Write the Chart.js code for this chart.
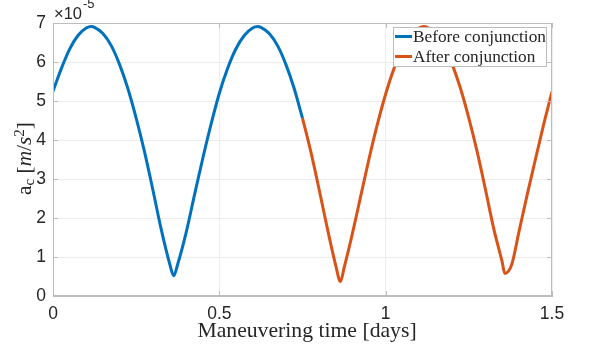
<!DOCTYPE html>
<html>
<head>
<meta charset="utf-8">
<script src="https://cdn.jsdelivr.net/npm/chart.js@4/dist/chart.umd.min.js"></script>
<style>
  html, body { margin: 0; background: #fff; }
</style>
</head>
<body>
<canvas id="chart" width="589" height="353"></canvas>
<script>
// values in units of 1e-5 m/s^2
const beforeDays = [0, 0.025, 0.05, 0.075, 0.1, 0.115, 0.125, 0.15, 0.175, 0.2, 0.225, 0.25, 0.275, 0.3, 0.325, 0.35, 0.363, 0.375, 0.4, 0.425, 0.45, 0.475, 0.5, 0.525, 0.55, 0.575, 0.6, 0.615, 0.625, 0.65, 0.675, 0.7, 0.725, 0.75];
const beforeAc   = [5.25, 5.83, 6.33, 6.68, 6.87, 6.91, 6.89, 6.73, 6.42, 5.94, 5.32, 4.56, 3.70, 2.73, 1.72, 0.85, 0.52, 0.82, 1.62, 2.58, 3.52, 4.4, 5.2, 5.84, 6.34, 6.68, 6.87, 6.91, 6.89, 6.73, 6.42, 5.94, 5.32, 4.56];
const afterDays  = [0.75, 0.775, 0.8, 0.825, 0.85, 0.864, 0.875, 0.9, 0.925, 0.95, 0.975, 1.0, 1.025, 1.05, 1.075, 1.1, 1.115, 1.125, 1.15, 1.175, 1.2, 1.225, 1.25, 1.275, 1.3, 1.325, 1.35, 1.358, 1.379, 1.4, 1.425, 1.45, 1.475, 1.5];
const afterAc    = [4.56, 3.70, 2.73, 1.72, 0.78, 0.37, 0.72, 1.6, 2.56, 3.52, 4.40, 5.18, 5.83, 6.33, 6.68, 6.87, 6.91, 6.89, 6.73, 6.42, 5.94, 5.32, 4.56, 3.70, 2.73, 1.72, 0.88, 0.58, 0.81, 1.62, 2.58, 3.5, 4.4, 5.24];
const xTicks = [0, 0.5, 1, 1.5];
const yTicks = [0, 1, 2, 3, 4, 5, 6, 7];
const seriesNames = ['Before conjunction', 'After conjunction'];

const AXIS = '#bcbcbc';
const TEXT = '#262626';
const SANS = '"Liberation Sans", Arial, sans-serif';
const SERIF = '"Liberation Serif", "DejaVu Serif", serif';

const toPts = (xs, ys) => xs.map((x, i) => ({ x: x, y: ys[i] }));

// box, inward ticks, exponent, axis titles and legend
const decor = {
  id: 'decor',
  afterDatasetsDraw(chart){
    const ctx = chart.ctx, a = chart.chartArea;
    const xs = chart.scales.x, ys = chart.scales.y;
    ctx.save();
    ctx.strokeStyle = AXIS; ctx.lineWidth = 1;
    ctx.strokeRect(a.left + 0.5, a.top + 0.5, a.right - a.left - 1, a.bottom - a.top - 1);
    ctx.beginPath();
    xTicks.forEach(v => {
      const px = Math.round(xs.getPixelForValue(v)) + 0.5;
      ctx.moveTo(px, a.bottom); ctx.lineTo(px, a.bottom - 5);
      ctx.moveTo(px, a.top); ctx.lineTo(px, a.top + 5);
    });
    yTicks.forEach(v => {
      const py = Math.round(ys.getPixelForValue(v)) + 0.5;
      ctx.moveTo(a.left, py); ctx.lineTo(a.left + 5, py);
      ctx.moveTo(a.right, py); ctx.lineTo(a.right - 5, py);
    });
    ctx.stroke();

    // x10^-5
    ctx.fillStyle = TEXT;
    ctx.textAlign = 'left'; ctx.textBaseline = 'alphabetic';
    ctx.font = '16.5px ' + SANS;
    ctx.fillText('\u00d710', 54, 19);
    const w10 = ctx.measureText('\u00d710').width;
    ctx.font = '13px ' + SANS;
    ctx.fillText('-5', 54 + w10 + 1, 8);

    // x title
    const xt = 'Maneuvering time [days]';
    ctx.font = '17px ' + SERIF;
    let s = 17 * 219 / ctx.measureText(xt).width;
    ctx.font = s.toFixed(1) + 'px ' + SERIF;
    ctx.textAlign = 'center';
    ctx.fillText(xt, 307, 337);

    // y title: a_c [m/s^2]
    const parts = [
      { t: 'a', st: '', sz: 1, dy: 0 },
      { t: 'c', st: '', sz: 0.7, dy: 3 },
      { t: ' [', st: '', sz: 1, dy: 0 },
      { t: 'm', st: 'italic ', sz: 1, dy: 0 },
      { t: '/', st: '', sz: 1, dy: 0 },
      { t: 's', st: 'italic ', sz: 1, dy: 0 },
      { t: '2', st: '', sz: 0.7, dy: -7 },
      { t: ']', st: '', sz: 1, dy: 0 }
    ];
    let base = 17, tot = 0;
    parts.forEach(p => {
      ctx.font = p.st + (base * p.sz) + 'px ' + SERIF;
      tot += ctx.measureText(p.t).width;
    });
    base = base * 73 / tot;
    tot = 0;
    parts.forEach(p => {
      ctx.font = p.st + (base * p.sz).toFixed(1) + 'px ' + SERIF;
      p.w = ctx.measureText(p.t).width; tot += p.w;
    });
    ctx.translate(30.5, 158.5);
    ctx.rotate(-Math.PI / 2);
    ctx.textAlign = 'left';
    let cx = -tot / 2;
    parts.forEach(p => {
      ctx.font = p.st + (base * p.sz).toFixed(1) + 'px ' + SERIF;
      ctx.fillText(p.t, cx, p.dy);
      cx += p.w;
    });
    ctx.setTransform(1, 0, 0, 1, 0, 0);

    // legend
    const lx = 393, ly = 27, lw = 154, lh = 40;
    ctx.fillStyle = '#fff';
    ctx.fillRect(lx, ly, lw, lh);
    ctx.strokeStyle = AXIS;
    ctx.strokeRect(lx + 0.5, ly + 0.5, lw - 1, lh - 1);
    ctx.font = '16px ' + SERIF;
    s = 16 * 133 / ctx.measureText(seriesNames[0]).width;
    ctx.font = s.toFixed(1) + 'px ' + SERIF;
    ctx.textBaseline = 'middle';
    chart.data.datasets.forEach((d, i) => {
      const y = ly + 9.5 + i * 20;
      ctx.strokeStyle = d.borderColor; ctx.lineWidth = 3;
      ctx.beginPath(); ctx.moveTo(lx + 2, y); ctx.lineTo(lx + 19, y); ctx.stroke();
      ctx.fillStyle = TEXT;
      ctx.fillText(d.label, lx + 20, y + 0.5);
    });
    ctx.restore();
  }
};

new Chart(document.getElementById('chart'), {
  type: 'line',
  data: {
    datasets: [
      { label: seriesNames[0], data: toPts(beforeDays, beforeAc), borderColor: '#0072BD' },
      { label: seriesNames[1], data: toPts(afterDays, afterAc), borderColor: '#D95319' }
    ]
  },
  options: {
    responsive: false,
    animation: false,
    devicePixelRatio: 1,
    layout: { padding: { top: 23, right: 37, left: 0, bottom: 0 } },
    elements: {
      point: { radius: 0 },
      line: { borderWidth: 3, cubicInterpolationMode: 'monotone', fill: false }
    },
    plugins: { legend: { display: false }, tooltip: { enabled: false } },
    scales: {
      x: {
        type: 'linear', min: 0, max: 1.5,
        afterBuildTicks: s => { s.ticks = xTicks.map(v => ({ value: v })); },
        afterFit: s => { s.height = 57; },
        grid: { color: '#ececec', drawTicks: false },
        border: { color: AXIS },
        ticks: { color: TEXT, padding: 8, maxRotation: 0,
          font: { family: SANS, size: 17.5 },
          callback: v => String(v) }
      },
      y: {
        min: 0, max: 7,
        afterBuildTicks: s => { s.ticks = yTicks.map(v => ({ value: v })); },
        afterFit: s => { s.width = 53; },
        grid: { color: '#ececec', drawTicks: false },
        border: { color: AXIS },
        ticks: { color: TEXT, padding: 7,
          font: { family: SANS, size: 17.5 } }
      }
    }
  },
  plugins: [decor]
});
</script>
</body>
</html>
